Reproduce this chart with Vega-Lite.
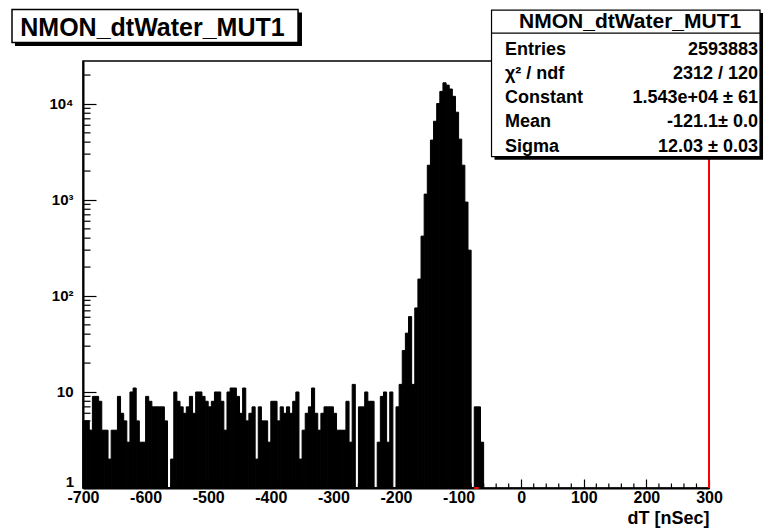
{
  "$schema": "https://vega.github.io/schema/vega-lite/v6.json",
  "width": 626,
  "height": 427,
  "autosize": {"type": "none"},
  "padding": {"left": 83, "top": 61, "right": 64, "bottom": 43},
  "background": "white",
  "config": {
    "view": {"stroke": "black", "strokeWidth": 1.5},
    "font": "Liberation Sans"
  },
  "datasets": {
    "hist": [
      {"lo": -700, "hi": -695, "n": 5}, {"lo": -695, "hi": -690, "n": 5}, {"lo": -690, "hi": -685, "n": 4}, {"lo": -685, "hi": -680, "n": 9}, {"lo": -680, "hi": -675, "n": 9},
      {"lo": -675, "hi": -670, "n": 8}, {"lo": -670, "hi": -665, "n": 4}, {"lo": -665, "hi": -660, "n": 4}, {"lo": -660, "hi": -655, "n": 2}, {"lo": -655, "hi": -650, "n": 4},
      {"lo": -650, "hi": -645, "n": 4}, {"lo": -645, "hi": -640, "n": 9}, {"lo": -640, "hi": -635, "n": 6}, {"lo": -635, "hi": -630, "n": 5}, {"lo": -630, "hi": -625, "n": 3},
      {"lo": -625, "hi": -620, "n": 10}, {"lo": -620, "hi": -615, "n": 11}, {"lo": -615, "hi": -610, "n": 5}, {"lo": -610, "hi": -605, "n": 3}, {"lo": -605, "hi": -600, "n": 3},
      {"lo": -600, "hi": -595, "n": 9}, {"lo": -595, "hi": -590, "n": 8}, {"lo": -590, "hi": -585, "n": 7}, {"lo": -585, "hi": -580, "n": 7}, {"lo": -580, "hi": -575, "n": 7},
      {"lo": -575, "hi": -570, "n": 7}, {"lo": -570, "hi": -565, "n": 5}, {"lo": -565, "hi": -560, "n": 1}, {"lo": -560, "hi": -555, "n": 2}, {"lo": -555, "hi": -550, "n": 10},
      {"lo": -550, "hi": -545, "n": 8}, {"lo": -545, "hi": -540, "n": 7}, {"lo": -540, "hi": -535, "n": 6}, {"lo": -535, "hi": -530, "n": 7}, {"lo": -530, "hi": -525, "n": 9},
      {"lo": -525, "hi": -520, "n": 6}, {"lo": -520, "hi": -515, "n": 10}, {"lo": -515, "hi": -510, "n": 10}, {"lo": -510, "hi": -505, "n": 9}, {"lo": -505, "hi": -500, "n": 8},
      {"lo": -500, "hi": -495, "n": 7}, {"lo": -495, "hi": -490, "n": 8}, {"lo": -490, "hi": -485, "n": 10}, {"lo": -485, "hi": -480, "n": 10}, {"lo": -480, "hi": -475, "n": 8},
      {"lo": -475, "hi": -470, "n": 4}, {"lo": -470, "hi": -465, "n": 10}, {"lo": -465, "hi": -460, "n": 11}, {"lo": -460, "hi": -455, "n": 11}, {"lo": -455, "hi": -450, "n": 9},
      {"lo": -450, "hi": -445, "n": 6}, {"lo": -445, "hi": -440, "n": 11}, {"lo": -440, "hi": -435, "n": 5}, {"lo": -435, "hi": -430, "n": 6}, {"lo": -430, "hi": -425, "n": 7},
      {"lo": -425, "hi": -420, "n": 2}, {"lo": -420, "hi": -415, "n": 7}, {"lo": -415, "hi": -410, "n": 5}, {"lo": -410, "hi": -405, "n": 5}, {"lo": -405, "hi": -400, "n": 3},
      {"lo": -400, "hi": -395, "n": 8}, {"lo": -395, "hi": -390, "n": 8}, {"lo": -390, "hi": -385, "n": 5}, {"lo": -385, "hi": -380, "n": 7}, {"lo": -380, "hi": -375, "n": 6},
      {"lo": -375, "hi": -370, "n": 7}, {"lo": -370, "hi": -365, "n": 6}, {"lo": -365, "hi": -360, "n": 8}, {"lo": -360, "hi": -355, "n": 10}, {"lo": -355, "hi": -350, "n": 2},
      {"lo": -350, "hi": -345, "n": 4}, {"lo": -345, "hi": -340, "n": 6}, {"lo": -340, "hi": -335, "n": 7}, {"lo": -335, "hi": -330, "n": 11}, {"lo": -330, "hi": -325, "n": 6},
      {"lo": -325, "hi": -320, "n": 4}, {"lo": -320, "hi": -315, "n": 6}, {"lo": -315, "hi": -310, "n": 7}, {"lo": -310, "hi": -305, "n": 7}, {"lo": -305, "hi": -300, "n": 7},
      {"lo": -300, "hi": -295, "n": 6}, {"lo": -295, "hi": -290, "n": 4}, {"lo": -290, "hi": -285, "n": 4}, {"lo": -285, "hi": -280, "n": 4}, {"lo": -280, "hi": -275, "n": 8},
      {"lo": -275, "hi": -270, "n": 3}, {"lo": -270, "hi": -265, "n": 12}, {"lo": -265, "hi": -260, "n": 1}, {"lo": -260, "hi": -255, "n": 7}, {"lo": -255, "hi": -250, "n": 7},
      {"lo": -250, "hi": -245, "n": 10}, {"lo": -245, "hi": -240, "n": 8}, {"lo": -240, "hi": -235, "n": 8}, {"lo": -235, "hi": -230, "n": 1}, {"lo": -230, "hi": -225, "n": 3},
      {"lo": -225, "hi": -220, "n": 9}, {"lo": -220, "hi": -215, "n": 10}, {"lo": -215, "hi": -210, "n": 3}, {"lo": -210, "hi": -205, "n": 10}, {"lo": -205, "hi": -200, "n": 1},
      {"lo": -200, "hi": -195, "n": 7}, {"lo": -195, "hi": -190, "n": 12}, {"lo": -190, "hi": -185, "n": 27}, {"lo": -185, "hi": -180, "n": 41}, {"lo": -180, "hi": -175, "n": 61},
      {"lo": -175, "hi": -170, "n": 12}, {"lo": -170, "hi": -165, "n": 75}, {"lo": -165, "hi": -160, "n": 150}, {"lo": -160, "hi": -155, "n": 420}, {"lo": -155, "hi": -150, "n": 1150},
      {"lo": -150, "hi": -145, "n": 2300}, {"lo": -145, "hi": -140, "n": 4200}, {"lo": -140, "hi": -135, "n": 6600}, {"lo": -135, "hi": -130, "n": 10100}, {"lo": -130, "hi": -125, "n": 13500},
      {"lo": -125, "hi": -120, "n": 16600}, {"lo": -120, "hi": -115, "n": 15700}, {"lo": -115, "hi": -110, "n": 14300}, {"lo": -110, "hi": -105, "n": 12000}, {"lo": -105, "hi": -100, "n": 8200},
      {"lo": -100, "hi": -95, "n": 4300}, {"lo": -95, "hi": -90, "n": 2300}, {"lo": -90, "hi": -85, "n": 950}, {"lo": -85, "hi": -80, "n": 300}, {"lo": -80, "hi": -75, "n": 1},
      {"lo": -75, "hi": -70, "n": 7}, {"lo": -70, "hi": -65, "n": 7}, {"lo": -65, "hi": -60, "n": 3}
    ],
    "xminor": [
      {"t": -680}, {"t": -660}, {"t": -640}, {"t": -620}, {"t": -580}, {"t": -560}, {"t": -540}, {"t": -520},
      {"t": -480}, {"t": -460}, {"t": -440}, {"t": -420}, {"t": -380}, {"t": -360}, {"t": -340}, {"t": -320},
      {"t": -280}, {"t": -260}, {"t": -240}, {"t": -220}, {"t": -180}, {"t": -160}, {"t": -140}, {"t": -120},
      {"t": -80}, {"t": -60}, {"t": -40}, {"t": -20}, {"t": 20}, {"t": 40}, {"t": 60}, {"t": 80},
      {"t": 120}, {"t": 140}, {"t": 160}, {"t": 180}, {"t": 220}, {"t": 240}, {"t": 260}, {"t": 280}
    ],
    "yminor": [
      {"t": 2}, {"t": 3}, {"t": 4}, {"t": 5}, {"t": 6}, {"t": 7}, {"t": 8}, {"t": 9},
      {"t": 20}, {"t": 30}, {"t": 40}, {"t": 50}, {"t": 60}, {"t": 70}, {"t": 80}, {"t": 90},
      {"t": 200}, {"t": 300}, {"t": 400}, {"t": 500}, {"t": 600}, {"t": 700}, {"t": 800}, {"t": 900},
      {"t": 2000}, {"t": 3000}, {"t": 4000}, {"t": 5000}, {"t": 6000}, {"t": 7000}, {"t": 8000}, {"t": 9000},
      {"t": 20000}
    ]
  },
  "layer": [
    {
      "data": {"name": "hist"},
      "mark": {"type": "rect", "fill": "black", "stroke": "black", "strokeWidth": 1},
      "encoding": {
        "x": {
          "field": "lo",
          "type": "quantitative",
          "scale": {"domain": [-700, 300], "nice": false, "zero": false},
          "axis": {
            "values": [-700, -600, -500, -400, -300, -200, -100, 0, 100, 200, 300],
            "labelExpr": "'' + datum.value",
            "tickSize": -9,
            "labelPadding": 10,
            "tickColor": "black",
            "tickWidth": 1.2,
            "domainColor": "black",
            "domainWidth": 2,
            "labelFont": "Liberation Sans",
            "labelFontWeight": "bold",
            "labelFontSize": 16,
            "labelColor": "black",
            "labelOverlap": false,
            "labelFlush": false,
            "labelBound": false,
            "grid": false,
            "title": "dT [nSec]",
            "titleAnchor": "end",
            "titleAlign": "right",
            "titleFont": "Liberation Sans",
            "titleFontWeight": "bold",
            "titleFontSize": 18,
            "titleColor": "black",
            "titlePadding": 4
          }
        },
        "x2": {"field": "hi"},
        "y": {
          "field": "n",
          "type": "quantitative",
          "scale": {"type": "log", "domain": [1, 28000], "nice": false},
          "axis": {
            "values": [1, 10, 100, 1000, 10000],
            "labelExpr": "datum.value === 10 ? '10' : datum.value === 100 ? '10²' : datum.value === 1000 ? '10³' : datum.value === 10000 ? '10⁴' : ''",
            "tickSize": -13,
            "labelPadding": 23,
            "tickColor": "black",
            "tickWidth": 1.2,
            "domainColor": "black",
            "domainWidth": 2,
            "labelFont": "Liberation Sans",
            "labelFontWeight": "bold",
            "labelFontSize": 15,
            "labelColor": "black",
            "labelOverlap": false,
            "labelFlush": false,
            "labelBound": false,
            "grid": false,
            "title": null
          }
        },
        "y2": {"datum": 1}
      }
    },
    {
      "data": {"name": "xminor"},
      "mark": {"type": "rule", "color": "black", "strokeWidth": 1.2, "clip": false},
      "encoding": {
        "x": {"field": "t", "type": "quantitative"},
        "y": {"datum": 1},
        "y2": {"datum": 1.114}
      }
    },
    {
      "data": {"name": "yminor"},
      "mark": {"type": "rule", "color": "black", "strokeWidth": 1.2, "clip": false},
      "encoding": {
        "y": {"field": "t", "type": "quantitative"},
        "x": {"datum": -700},
        "x2": {"datum": -688}
      }
    },
    {
      "data": {"values": [{"label": "1"}]},
      "mark": {"type": "text", "font": "Liberation Sans", "fontWeight": "bold", "fontSize": 15, "align": "right", "baseline": "middle", "dx": -9, "dy": -6, "color": "black", "clip": false},
      "encoding": {"x": {"datum": -700}, "y": {"datum": 1}, "text": {"field": "label"}}
    },
    {
      "data": {"values": [{}]},
      "mark": {"type": "rule", "color": "#ff0000", "strokeWidth": 2, "clip": false},
      "encoding": {"x": {"datum": -75}, "x2": {"datum": -68}, "y": {"datum": 1}}
    },
    {
      "data": {"values": [{}]},
      "mark": {"type": "rule", "color": "#ff0000", "strokeWidth": 2, "clip": false},
      "encoding": {"x": {"datum": 300}, "y": {"datum": 1}, "y2": {"datum": 28000}}
    },
    {
      "data": {"values": [{}]},
      "mark": {"type": "rect", "fill": "black", "clip": false},
      "encoding": {"x": {"datum": -808.6}, "x2": {"datum": -350.2}, "y": {"datum": 89540}, "y2": {"datum": 40080}}
    },
    {
      "data": {"values": [{}]},
      "mark": {"type": "rect", "fill": "white", "stroke": "black", "strokeWidth": 1.5, "clip": false},
      "encoding": {"x": {"datum": -813.4}, "x2": {"datum": -356.5}, "y": {"datum": 96200}, "y2": {"datum": 43550}}
    },
    {
      "data": {"values": [{}]},
      "mark": {"type": "text", "text": "NMON_dtWater_MUT1", "font": "Liberation Sans", "fontWeight": "bold", "fontSize": 25, "align": "center", "baseline": "alphabetic", "color": "black", "clip": false},
      "encoding": {"x": {"datum": -589}, "y": {"datum": 50700}}
    },
    {
      "data": {"values": [{}]},
      "mark": {"type": "rect", "fill": "black", "clip": false},
      "encoding": {"x": {"datum": -42.6}, "x2": {"datum": 386.3}, "y": {"datum": 88500}, "y2": {"datum": 2624}}
    },
    {
      "data": {"values": [{}]},
      "mark": {"type": "rect", "fill": "white", "stroke": "black", "strokeWidth": 1.2, "clip": false},
      "encoding": {"x": {"datum": -47.4}, "x2": {"datum": 381.5}, "y": {"datum": 95060}, "y2": {"datum": 2820}}
    },
    {
      "data": {"values": [{}]},
      "mark": {"type": "rule", "color": "black", "strokeWidth": 1.2, "clip": false},
      "encoding": {"x": {"datum": -47.4}, "x2": {"datum": 381.5}, "y": {"datum": 54700}}
    },
    {
      "data": {"values": [{}]},
      "mark": {"type": "text", "text": "NMON_dtWater_MUT1", "font": "Liberation Sans", "fontWeight": "bold", "fontSize": 21, "align": "center", "baseline": "alphabetic", "color": "black", "clip": false},
      "encoding": {"x": {"datum": 174}, "y": {"datum": 62000}}
    },
    {
      "data": {"values": [{}]},
      "mark": {"type": "text", "text": ["Entries", "χ² / ndf", "Constant", "Mean", "Sigma"], "font": "Liberation Sans", "fontWeight": "bold", "fontSize": 18, "lineHeight": 24.3, "align": "left", "baseline": "alphabetic", "color": "black", "clip": false},
      "encoding": {"x": {"datum": -25.9}, "y": {"datum": 32660}}
    },
    {
      "data": {"values": [{}]},
      "mark": {"type": "text", "text": ["2593883", "2312 / 120", "1.543e+04 ± 61", "-121.1± 0.0", "12.03 ± 0.03"], "font": "Liberation Sans", "fontWeight": "bold", "fontSize": 18, "lineHeight": 24.3, "align": "right", "baseline": "alphabetic", "color": "black", "clip": false},
      "encoding": {"x": {"datum": 378.3}, "y": {"datum": 32660}}
    }
  ]
}
